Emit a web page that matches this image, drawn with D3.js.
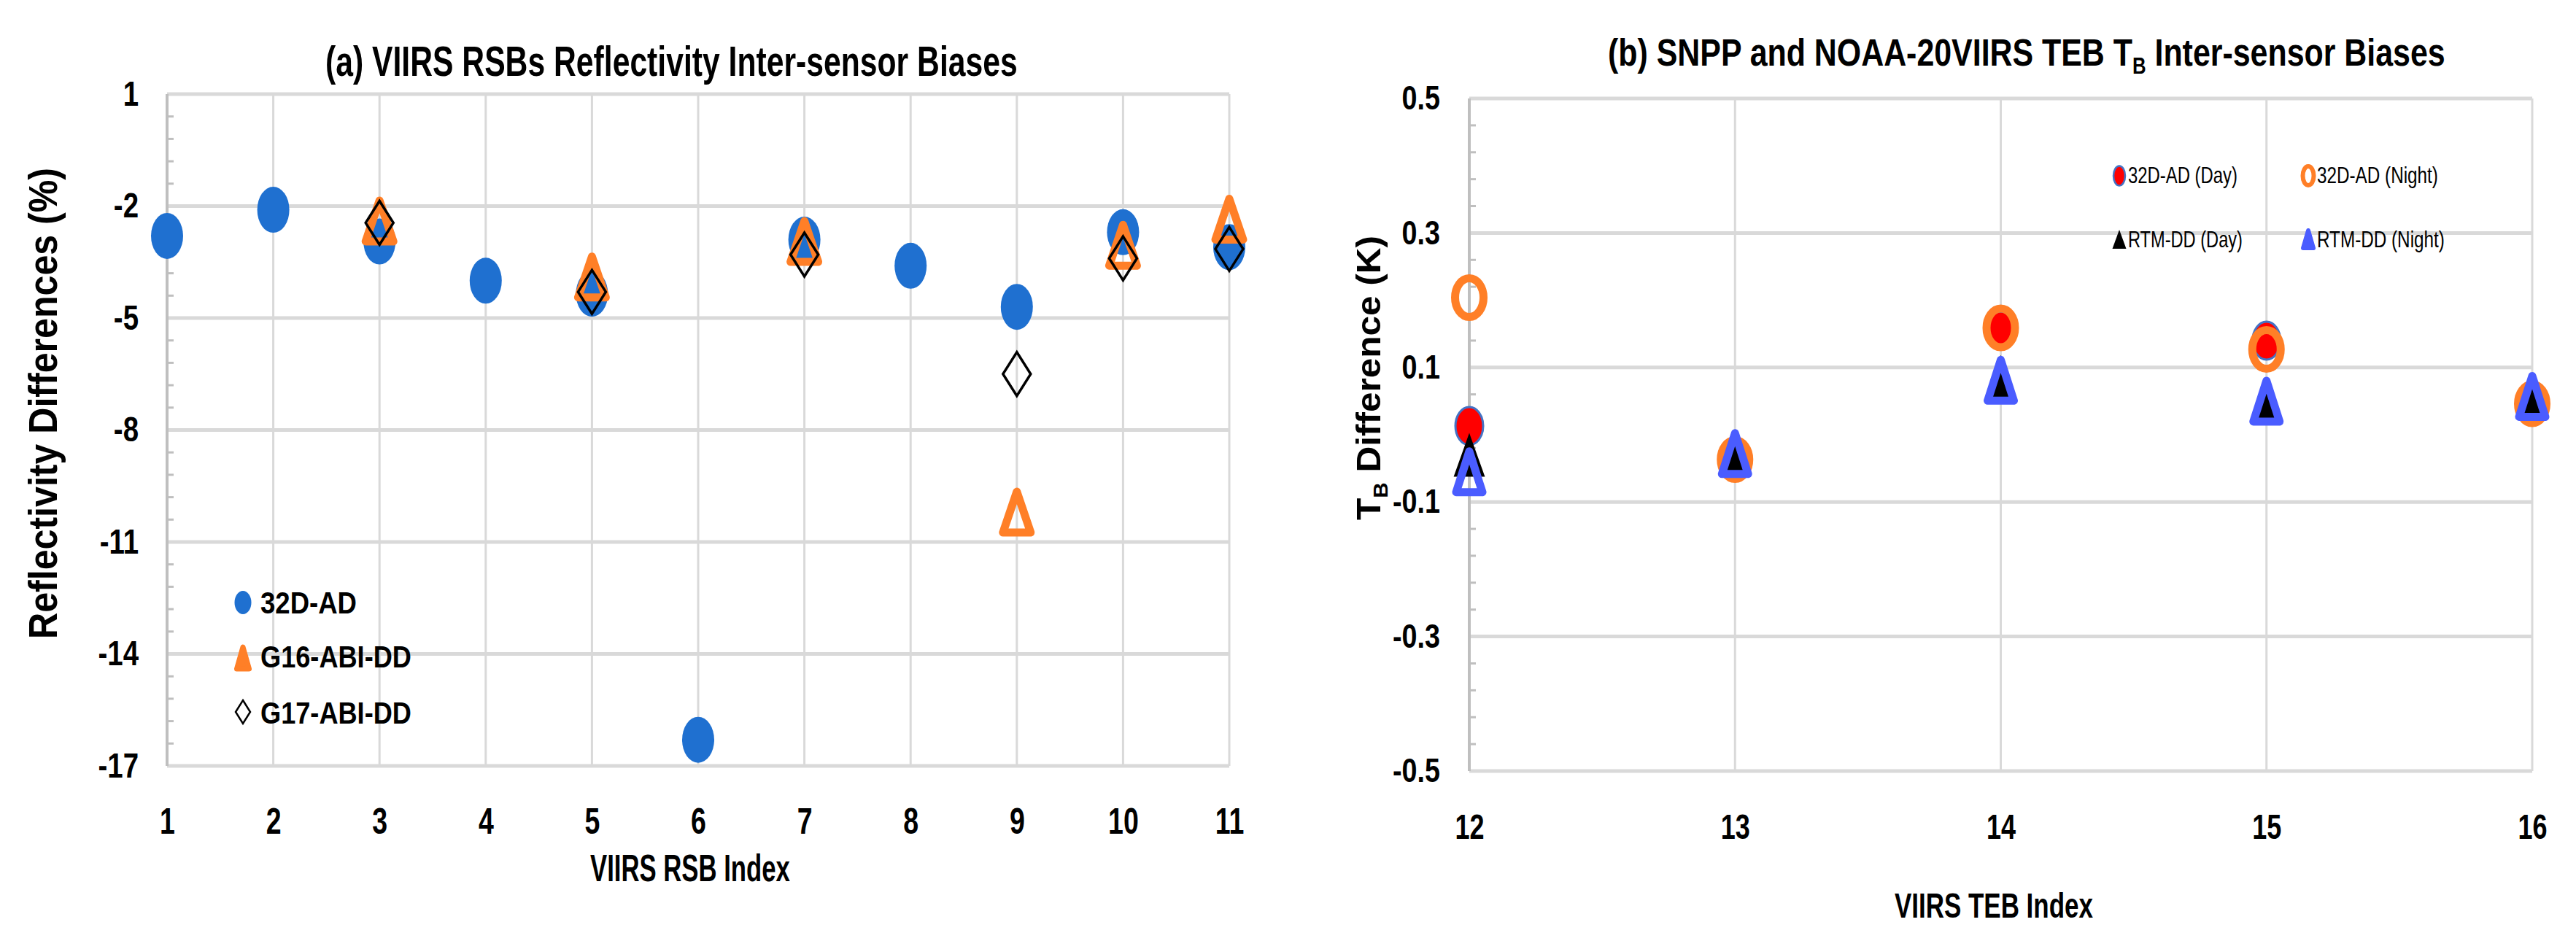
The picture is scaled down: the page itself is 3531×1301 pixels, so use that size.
<!DOCTYPE html>
<html>
<head>
<meta charset="utf-8">
<script src="https://cdn.jsdelivr.net/npm/d3@7"></script>
<style>
  html, body { margin: 0; padding: 0; background: #fff; }
  text { font-family: "Liberation Sans", Arial, sans-serif; }
</style>
</head>
<body>
<script>
// ---------------- DATA ----------------
// (a) VIIRS RSB reflectivity inter-sensor biases (%)
const rsbBands = [1, 2, 3, 4, 5, 6, 7, 8, 9, 10, 11];
const rsb32dAD = [-2.8, -2.1, -2.95, -4.0, -4.35, -16.3, -2.9, -3.6, -4.7, -2.7, -3.1];
const abiBands = [3, 5, 7, 9, 10, 11];
const g16AbiDD = [-2.4, -3.9, -2.95, -10.2, -3.05, -2.35];
const g17AbiDD = [-2.45, -4.3, -3.3, -6.5, -3.4, -3.15];
const rsbYTicks = [1, -2, -5, -8, -11, -14, -17];
const rsbXTicks = [1, 2, 3, 4, 5, 6, 7, 8, 9, 10, 11];

// (b) SNPP and NOAA-20 VIIRS TEB TB inter-sensor biases (K)
const tebBands = [12, 13, 14, 15, 16];
const teb32dDay = [0.013, -0.035, 0.155, 0.14, 0.05];
const teb32dNight = [0.204, -0.037, 0.159, 0.127, 0.046];
const tebRtmDay = [-0.031, -0.028, 0.085, 0.05, 0.055];
const tebRtmNight = [-0.055, -0.028, 0.081, 0.05, 0.057];
const tebYTicks = [0.5, 0.3, 0.1, -0.1, -0.3, -0.5];
const tebXTicks = [12, 13, 14, 15, 16];

// ---------------- STYLE ----------------
const BLUE = "#1F70D0", ORANGE = "#FF7F27", RED = "#FF0000", DAYSTROKE = "#4472C4", NIGHTBLUE = "#4A5CFF";
const GRID = "#d9d9d9", AXIS = "#bfbfbf";

const svg = d3.select("body").append("svg")
  .attr("width", 3531).attr("height", 1301)
  .style("background", "#fff");

function label(parent, o) {
  const g = parent.append("g");
  const t = g.append("text")
    .attr("font-size", o.size)
    .attr("font-weight", o.weight || "bold")
    .attr("text-anchor", o.anchor || "start")
    .attr("fill", o.fill || "#000");
  if (o.parts) {
    o.parts.forEach(p => {
      const ts = t.append("tspan").text(p.t);
      if (p.sub) ts.attr("font-size", o.size * 0.6).attr("dy", o.size * 0.22);
      if (p.back) ts.attr("dy", -o.size * 0.22);
    });
  } else t.text(o.text);
  const w = t.node().getComputedTextLength();
  const s = o.width ? o.width / w : 1;
  g.attr("transform", `translate(${o.x},${o.y}) rotate(${o.rotate || 0}) scale(${s},${o.sy || 1})`);
  return t;
}

function triPath(w, h) {
  return `M0,${-h / 2}L${w / 2},${h / 2}L${-w / 2},${h / 2}Z`;
}
function diamondPath(w, h) {
  return `M0,${-h / 2}L${w / 2},0L0,${h / 2}L${-w / 2},0Z`;
}

function drawFrame(g, x, y, yTicks, xTicks, minorStep, xLabelScale, yLabelScale, yFont, xFont, yPad, xPad) {
  const [x0, x1] = x.range();
  const [yb, yt] = y.range();
  // vertical gridlines
  g.append("g").selectAll("line").data(xTicks.slice(1)).join("line")
    .attr("x1", d => x(d)).attr("x2", d => x(d))
    .attr("y1", yt).attr("y2", yb)
    .attr("stroke", GRID).attr("stroke-width", 3);
  // horizontal major gridlines
  g.append("g").selectAll("line").data(yTicks).join("line")
    .attr("x1", x0).attr("x2", x1)
    .attr("y1", d => y(d)).attr("y2", d => y(d))
    .attr("stroke", GRID).attr("stroke-width", 5);
  // left axis line
  g.append("line").attr("x1", x0).attr("x2", x0).attr("y1", yt).attr("y2", yb)
    .attr("stroke", AXIS).attr("stroke-width", 4);
  // minor ticks (inside)
  const [d0, d1] = y.domain();
  const minors = [];
  const n = Math.round((d1 - d0) / minorStep);
  for (let i = 1; i < n; i++) {
    const v = d0 + i * minorStep;
    if (!yTicks.some(t => Math.abs(t - v) < minorStep / 10)) minors.push(v);
  }
  g.append("g").selectAll("line").data(minors).join("line")
    .attr("x1", x0).attr("x2", x0 + 9)
    .attr("y1", d => y(d)).attr("y2", d => y(d))
    .attr("stroke", AXIS).attr("stroke-width", 3);

  // y axis labels
  const ya = g.append("g").attr("transform", `translate(${x0},0)`)
    .call(d3.axisLeft(y).tickValues(yTicks).tickSize(0).tickPadding(0)
      .tickFormat(d => d3.format("")(d).replace("−", "-")));
  ya.select(".domain").remove();
  ya.selectAll("text")
    .attr("font-size", yFont).attr("font-weight", "bold")
    .attr("font-family", '"Liberation Sans", Arial, sans-serif')
    .attr("fill", "#000")
    .attr("x", -yPad / yLabelScale)
    .attr("transform", `scale(${yLabelScale},1)`);
  // x axis labels
  const xa = g.append("g").attr("transform", `translate(0,${yb})`)
    .call(d3.axisBottom(x).tickValues(xTicks).tickSize(0).tickPadding(xPad).tickFormat(d3.format("d")));
  xa.select(".domain").remove();
  xa.selectAll("text")
    .attr("font-size", xFont).attr("font-weight", "bold")
    .attr("font-family", '"Liberation Sans", Arial, sans-serif')
    .attr("fill", "#000")
    .attr("transform", `scale(${xLabelScale},1)`);
}

// ================= CHART (a) =================
const ga = svg.append("g");
const xA = d3.scaleLinear().domain([1, 11]).range([229, 1685]);
const yA = d3.scaleLinear().domain([-17, 1]).range([1050, 129]);
drawFrame(ga, xA, yA, rsbYTicks, rsbXTicks, 0.6, 0.75, 0.8, 48, 50, 39, 58);

// 32D-AD ellipses
ga.append("g").selectAll("ellipse")
  .data(rsbBands.map((b, i) => ({ b, v: rsb32dAD[i] }))).join("ellipse")
  .attr("cx", d => xA(d.b)).attr("cy", d => yA(d.v))
  .attr("rx", 22).attr("ry", 31.5).attr("fill", BLUE);
// G16 hollow triangles
ga.append("g").selectAll("path")
  .data(abiBands.map((b, i) => ({ b, v: g16AbiDD[i] }))).join("path")
  .attr("d", triPath(38, 56))
  .attr("transform", d => `translate(${xA(d.b)},${yA(d.v)})`)
  .attr("fill", "none").attr("stroke", ORANGE).attr("stroke-width", 11)
  .attr("stroke-linejoin", "round");
// G17 hollow diamonds
ga.append("g").selectAll("path")
  .data(abiBands.map((b, i) => ({ b, v: g17AbiDD[i] }))).join("path")
  .attr("d", diamondPath(38, 60))
  .attr("transform", d => `translate(${xA(d.b)},${yA(d.v)})`)
  .attr("fill", "none").attr("stroke", "#000").attr("stroke-width", 3.5);

// Legend (a)
const la = ga.append("g");
la.append("ellipse").attr("cx", 333).attr("cy", 826).attr("rx", 11.5).attr("ry", 16).attr("fill", BLUE);
la.append("path").attr("d", triPath(17, 30)).attr("transform", "translate(333,902)")
  .attr("fill", ORANGE).attr("stroke", ORANGE).attr("stroke-width", 7).attr("stroke-linejoin", "round");
la.append("path").attr("d", diamondPath(20, 32)).attr("transform", "translate(333,976)")
  .attr("fill", "none").attr("stroke", "#000").attr("stroke-width", 2.5);
label(la, { x: 357, y: 841, text: "32D-AD", size: 43, width: 132 });
label(la, { x: 357, y: 915, text: "G16-ABI-DD", size: 43, width: 207 });
label(la, { x: 357, y: 992, text: "G17-ABI-DD", size: 43, width: 207 });

// Titles (a)
label(ga, { x: 446, y: 104, text: "(a) VIIRS RSBs Reflectivity Inter-sensor Biases", size: 58, width: 949 });
label(ga, { x: 809, y: 1208, text: "VIIRS RSB Index", size: 51, width: 274 });
label(ga, { x: 78, y: 553, text: "Reflectivity Differences (%)", size: 56, width: 646, anchor: "middle", rotate: -90 });

// ================= CHART (b) =================
const gb = svg.append("g");
const xB = d3.scaleLinear().domain([12, 16]).range([2014, 3471]);
const yB = d3.scaleLinear().domain([-0.5, 0.5]).range([1057, 135]);
drawFrame(gb, xB, yB, tebYTicks, tebXTicks, 0.04, 0.75, 0.82, 46, 48, 40, 59);

const tebData = (arr) => tebBands.map((b, i) => ({ b, v: arr[i] }));
// 32D-AD (Day): red ellipse with blue edge
gb.append("g").selectAll("ellipse").data(tebData(teb32dDay)).join("ellipse")
  .attr("cx", d => xB(d.b)).attr("cy", d => yB(d.v))
  .attr("rx", 19).attr("ry", 26).attr("fill", RED)
  .attr("stroke", DAYSTROKE).attr("stroke-width", 3);
// 32D-AD (Night): orange ring
gb.append("g").selectAll("ellipse").data(tebData(teb32dNight)).join("ellipse")
  .attr("cx", d => xB(d.b)).attr("cy", d => yB(d.v))
  .attr("rx", 19.5).attr("ry", 26.5).attr("fill", "none")
  .attr("stroke", ORANGE).attr("stroke-width", 11);
// RTM-DD (Day): black triangle
gb.append("g").selectAll("path").data(tebData(tebRtmDay)).join("path")
  .attr("d", triPath(40, 56))
  .attr("transform", d => `translate(${xB(d.b)},${yB(d.v)})`)
  .attr("fill", "#000").attr("stroke", "#000").attr("stroke-width", 2);
// RTM-DD (Night): hollow blue triangle
gb.append("g").selectAll("path").data(tebData(tebRtmNight)).join("path")
  .attr("d", triPath(36, 56))
  .attr("transform", d => `translate(${xB(d.b)},${yB(d.v)})`)
  .attr("fill", "none").attr("stroke", NIGHTBLUE).attr("stroke-width", 11)
  .attr("stroke-linejoin", "round");

// Legend (b)
const lb = gb.append("g");
lb.append("ellipse").attr("cx", 2905).attr("cy", 241).attr("rx", 8).attr("ry", 13.5)
  .attr("fill", RED).attr("stroke", DAYSTROKE).attr("stroke-width", 2.5);
lb.append("ellipse").attr("cx", 3164).attr("cy", 241).attr("rx", 7.5).attr("ry", 13)
  .attr("fill", "none").attr("stroke", ORANGE).attr("stroke-width", 6);
lb.append("path").attr("d", triPath(19, 26)).attr("transform", "translate(2905,328)")
  .attr("fill", "#000");
lb.append("path").attr("d", triPath(14, 24)).attr("transform", "translate(3164,328)")
  .attr("fill", NIGHTBLUE).attr("stroke", NIGHTBLUE).attr("stroke-width", 6).attr("stroke-linejoin", "round");
label(lb, { x: 2917, y: 251, text: "32D-AD (Day)", size: 31, width: 150, weight: "normal" });
label(lb, { x: 3176, y: 251, text: "32D-AD (Night)", size: 31, width: 166, weight: "normal" });
label(lb, { x: 2917, y: 339, text: "RTM-DD (Day)", size: 31, width: 157, weight: "normal" });
label(lb, { x: 3176, y: 339, text: "RTM-DD (Night)", size: 31, width: 175, weight: "normal" });

// Titles (b)
label(gb, {
  x: 2204, y: 90, size: 52, width: 1148,
  parts: [{ t: "(b) SNPP and NOAA-20VIIRS TEB T" }, { t: "B", sub: true }, { t: " Inter-sensor Biases", back: true }]
});
label(gb, { x: 2597, y: 1258, text: "VIIRS TEB Index", size: 49, width: 272 });
label(gb, {
  x: 1892, y: 518, size: 47, width: 390, anchor: "middle", rotate: -90,
  parts: [{ t: "T" }, { t: "B", sub: true }, { t: " Difference (K)", back: true }]
});
</script>
</body>
</html>
